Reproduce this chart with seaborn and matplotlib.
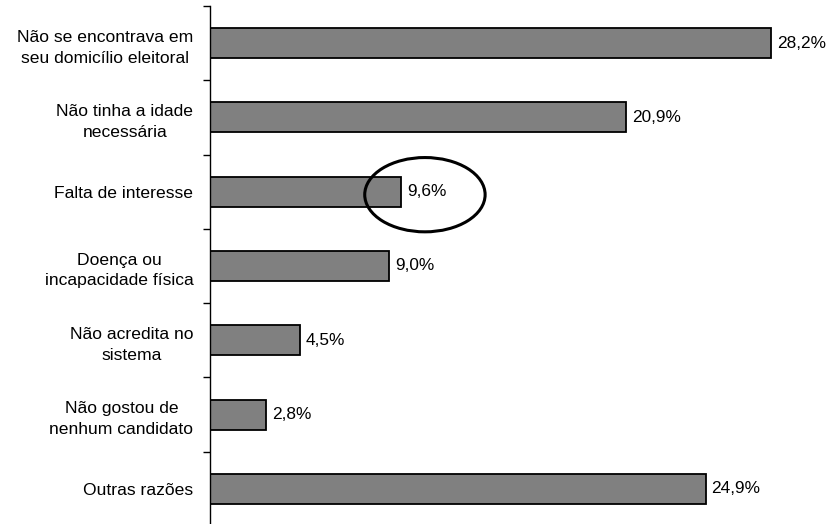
import matplotlib
matplotlib.use("Agg")
import matplotlib.pyplot as plt
from matplotlib.patches import Ellipse
import seaborn as sns
import pandas as pd
import numpy as np

categories = [
    "Não se encontrava em\nseu domicílio eleitoral",
    "Não tinha a idade\nnecessária",
    "Falta de interesse",
    "Doença ou\nincapacidade física",
    "Não acredita no\nsistema",
    "Não gostou de\nnenhum candidato",
    "Outras razões",
]
values = [28.2, 20.9, 9.6, 9.0, 4.5, 2.8, 24.9]
labels = ["28,2%", "20,9%", "9,6%", "9,0%", "4,5%", "2,8%", "24,9%"]
highlight = "Falta de interesse"

sns.set_theme(style="white")
plt.rcParams["font.family"] = ["Liberation Sans", "DejaVu Sans"]

df = pd.DataFrame({"motivo": categories, "pct": values})

fig = plt.figure(figsize=(8.27, 5.24), dpi=100)
ax = fig.add_axes([210 / 827, -2 / 524, 597 / 827, 520 / 524])

sns.barplot(data=df, y="motivo", x="pct", orient="h", color="#808080",
            saturation=1, width=0.405, edgecolor="black", linewidth=1.3, ax=ax)

ax.set_xlim(0, 30)
ax.set_ylim(len(categories) - 0.5, -0.5)
ax.set_xlabel("")
ax.set_ylabel("")
ax.set_xticks([])

for spine in ["top", "right", "bottom"]:
    ax.spines[spine].set_visible(False)
ax.spines["left"].set_color("black")
ax.spines["left"].set_linewidth(1.0)

# category labels centred between boundary ticks
ax.set_yticks(np.arange(len(categories)))
ax.set_yticklabels(categories, fontsize=12.6, multialignment="center",
                   linespacing=1.5)
ax.tick_params(axis="y", which="major", length=0, pad=12, colors="black")
ax.set_yticks(np.arange(len(categories) + 1) - 0.5, minor=True)
ax.tick_params(axis="y", which="minor", left=True, length=5, width=1.0,
               color="black")

for i, (v, t) in enumerate(zip(values, labels)):
    ax.text(v + 0.3, i, t, va="center", ha="left", fontsize=12.4, color="black")

# circle around the highlighted category value
hi = categories.index(highlight)
ax.add_patch(Ellipse((10.8, hi + 0.04), width=6.05, height=1.0,
                     fill=False, edgecolor="black", linewidth=2.2,
                     clip_on=False, zorder=5))

fig.savefig("out.png", dpi=100)
